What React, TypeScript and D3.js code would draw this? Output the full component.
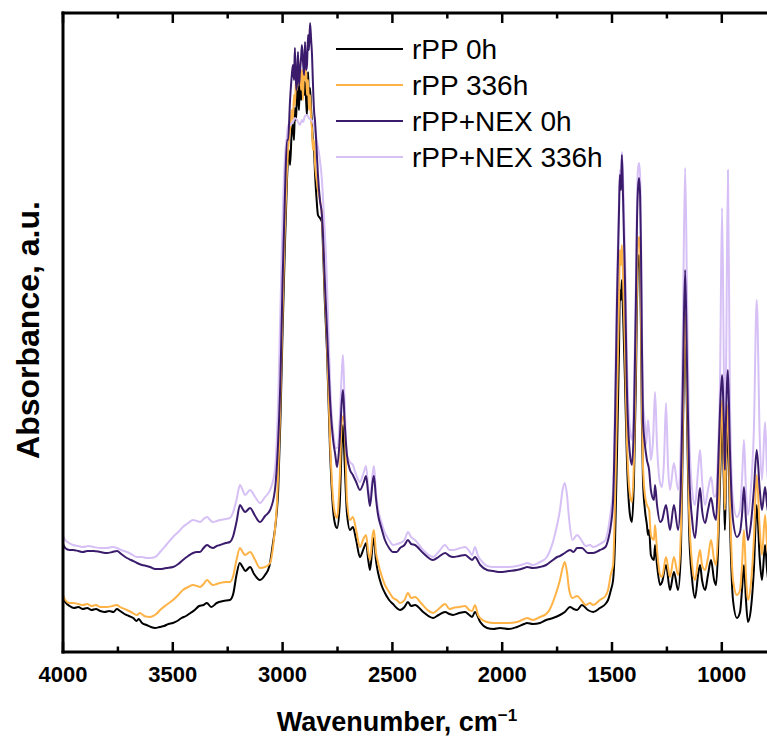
import React from 'react';
import * as d3 from 'd3';

type Pt = [number, number];

const seriesLabels = ['rPP 0h', 'rPP 336h', 'rPP+NEX 0h', 'rPP+NEX 336h'];
const xTickValues = [4000, 3500, 3000, 2500, 2000, 1500, 1000, 500];

// rPP 0h : [wavenumber cm-1, absorbance a.u.]
const rpp0h: Pt[] = [
  [4000,54],[3990,50],[3970,46],[3950,44],[3930,45],[3910,43],[3890,44],[3870,42],[3850,43],[3830,41],[3810,40],[3790,41],[3770,40],[3755,43],[3740,41],[3720,38],[3700,36],[3680,34],[3665,31],[3655,33],[3640,29],[3620,27],[3600,25],[3580,24],[3560,25],[3540,26],[3520,28],[3500,29],[3480,31],[3460,34],[3440,36],[3420,39],[3400,42],[3380,46],[3360,47],[3345,49],[3325,45],[3300,49],[3270,51],[3240,52],[3225,58],[3210,77],[3195,89],[3182,85],[3170,81],[3148,85],[3130,78],[3103,72],[3080,77],[3060,86],[3045,107],[3030,132],[3020,162],[3010,232],[3000,322],[2990,402],[2980,472],[2972,502],
  [2966,487],[2958,522],[2953,527],[2948,512],[2944,544],[2938,532],[2934,570],[2930,557],[2925,542],[2921,577],[2916,552],[2912,560],[2907,580],[2902,557],[2898,570],[2893,552],[2889,537],[2884,580],[2880,552],[2875,564],[2870,542],[2866,527],[2862,510],[2857,502],[2852,477],[2845,452],[2839,437],[2830,434],[2821,430],[2816,404],[2808,352],[2798,302],[2784,202],[2770,142],[2760,127],[2752,124],[2740,147],[2730,212],[2725,227],[2718,192],[2707,139],[2693,122],[2680,125],[2665,112],[2648,95],[2630,104],[2620,109],[2610,92],[2602,82],[2590,107],[2584,114],[2575,92],[2566,80],[2550,67],[2534,59],[2515,52],[2497,48],[2480,44],[2465,42],
  [2445,45],[2429,50],[2415,46],[2397,47],[2360,40],[2315,34],[2290,37],[2260,40],[2240,38],[2224,37],[2195,39],[2169,40],[2150,37],[2137,35],[2124,40],[2100,30],[2069,24],[2040,23],[2010,24],[1970,23],[1933,25],[1900,28],[1887,29],[1860,28],[1828,29],[1800,32],[1769,34],[1737,37],[1715,40],[1691,45],[1675,43],[1659,42],[1637,47],[1610,42],[1586,40],[1555,44],[1530,48],[1518,52],[1505,62],[1495,72],
  [1486,112],[1477,202],[1468,302],[1464,362],[1459,352],[1455,372],[1450,342],[1441,272],[1432,192],[1418,137],[1409,130],[1400,172],[1391,272],[1386,352],[1382,387],[1377,397],[1372,382],[1368,322],[1364,232],[1359,172],[1350,142],[1341,127],[1336,117],[1331,122],[1323,97],[1309,92],[1304,107],[1295,87],[1281,67],[1272,70],[1254,87],[1236,62],[1218,80],[1199,62],[1186,102],[1177,222],[1167,327],[1158,232],[1149,122],[1135,72],[1122,54],[1108,77],[1099,87],[1090,72],[1076,62],[1063,77],[1049,92],[1035,72],[1026,67],[1017,102],[1008,172],[999,232],[990,162],[986,122],[981,172],[972,227],[963,132],[949,52],[931,34],[917,40],[908,62],[899,87],[890,52],[881,30],[868,42],[854,82],[841,147],[827,92],[817,72],[803,107],[794,82],[780,62]
];

// rPP 336h
const rpp336h: Pt[] = [
  [4000,57],[3990,52],[3970,49],[3954,49],[3930,48],[3909,47],[3890,48],[3870,46],[3850,47],[3830,45],[3800,45],[3775,46],[3754,47],[3740,45],[3709,42],[3690,40],[3663,37],[3650,39],[3630,36],[3604,35],[3590,36],[3575,38],[3558,42],[3530,47],[3499,52],[3475,57],[3454,62],[3430,65],[3408,67],[3390,66],[3376,65],[3360,68],[3344,72],[3330,69],[3317,67],[3300,68],[3285,69],[3260,70],[3240,70],[3225,76],[3210,92],[3194,104],[3182,100],[3171,97],[3148,100],[3125,92],[3103,84],[3080,85],[3057,89],[3040,112],[3025,152],[3010,252],[3000,342],[2990,422],[2980,482],[2975,502],
  [2966,522],[2958,542],[2953,532],[2948,557],[2944,547],[2938,577],[2934,562],[2930,597],[2925,567],[2921,587],[2916,562],[2912,582],[2907,552],[2902,592],[2898,572],[2893,582],[2889,557],[2884,572],[2880,542],[2875,557],[2870,532],[2866,522],[2862,502],[2857,512],[2852,487],[2845,472],[2839,462],[2830,452],[2821,437],[2816,412],[2808,362],[2798,312],[2784,212],[2770,152],[2760,137],[2752,134],[2740,172],[2730,232],[2722,236],[2715,212],[2707,152],[2693,132],[2680,135],[2665,122],[2648,105],[2630,114],[2620,117],[2610,100],[2602,92],[2590,117],[2584,122],[2575,100],[2566,90],[2550,77],[2534,67],[2515,60],[2497,54],[2480,52],[2465,49],
  [2445,52],[2429,59],[2415,54],[2397,55],[2370,49],[2340,42],[2315,39],[2290,43],[2260,48],[2240,43],[2224,44],[2195,45],[2169,46],[2150,42],[2137,41],[2124,47],[2110,37],[2090,32],[2069,30],[2040,29],[2010,29],[1970,29],[1933,30],[1900,33],[1887,34],[1860,32],[1828,35],[1800,38],[1785,42],[1769,50],[1750,62],[1737,72],[1725,84],[1715,90],[1705,80],[1695,62],[1680,54],[1659,56],[1640,52],[1620,47],[1600,49],[1586,47],[1555,52],[1530,56],[1518,62],[1505,78],[1495,87],
  [1486,152],[1477,252],[1468,352],[1464,402],[1459,387],[1455,407],[1450,377],[1441,302],[1432,212],[1418,157],[1409,150],[1400,192],[1391,302],[1386,372],[1382,407],[1377,415],[1372,402],[1368,342],[1364,252],[1359,187],[1350,157],[1341,147],[1331,142],[1323,117],[1309,112],[1304,127],[1295,102],[1281,77],[1272,75],[1254,95],[1236,75],[1218,95],[1199,77],[1186,122],[1177,242],[1167,342],[1158,252],[1149,142],[1135,87],[1122,72],[1108,92],[1099,102],[1090,87],[1076,82],[1063,94],[1049,112],[1035,92],[1026,87],[1017,122],[1008,192],[999,252],[990,182],[986,142],[981,192],[972,247],[963,152],[949,72],[931,57],[917,62],[908,87],[899,122],[890,77],[881,52],[868,67],[854,112],[841,177],[827,122],[817,97],[803,137],[794,107],[780,85]
];

// rPP+NEX 0h
const rppNex0h: Pt[] = [
  [4000,108],[3990,104],[3970,102],[3954,102],[3930,101],[3909,100],[3890,101],[3860,101],[3830,100],[3800,99],[3775,100],[3754,101],[3735,98],[3709,94],[3690,92],[3663,89],[3640,87],[3620,86],[3604,85],[3580,83],[3558,83],[3530,84],[3499,85],[3475,88],[3454,92],[3430,96],[3408,99],[3390,100],[3376,100],[3360,104],[3344,107],[3330,105],[3317,104],[3300,106],[3285,107],[3260,109],[3240,110],[3225,116],[3210,130],[3194,147],[3182,143],[3171,140],[3148,144],[3125,136],[3103,130],[3080,136],[3057,142],[3035,162],[3020,212],[3010,272],[3000,372],[2990,452],[2980,512],[2975,512],
  [2966,552],[2958,577],[2953,587],[2948,572],[2944,604],[2938,562],[2934,570],[2930,600],[2925,567],[2921,580],[2916,594],[2912,607],[2907,590],[2902,577],[2898,610],[2893,582],[2889,587],[2884,617],[2880,602],[2875,629],[2870,612],[2866,597],[2862,570],[2857,542],[2852,530],[2845,502],[2839,477],[2830,452],[2821,437],[2816,417],[2808,372],[2798,322],[2784,252],[2770,212],[2760,197],[2752,185],[2740,212],[2730,252],[2725,262],[2718,232],[2707,197],[2693,182],[2680,177],[2665,170],[2648,162],[2630,170],[2620,176],[2610,158],[2602,146],[2590,170],[2584,176],[2575,154],[2566,138],[2550,124],[2534,112],[2515,104],[2497,100],[2480,100],[2465,104],
  [2445,107],[2429,112],[2415,108],[2397,107],[2360,99],[2315,92],[2290,95],[2260,99],[2240,96],[2224,95],[2195,96],[2169,97],[2150,94],[2137,92],[2124,95],[2100,87],[2069,82],[2040,81],[2010,80],[1970,81],[1933,82],[1900,84],[1887,85],[1860,84],[1828,85],[1800,87],[1769,92],[1750,95],[1737,96],[1715,99],[1691,102],[1675,100],[1659,104],[1637,104],[1610,99],[1586,99],[1555,102],[1530,105],[1518,112],[1505,127],[1495,152],
  [1486,232],[1477,352],[1468,442],[1464,477],[1459,462],[1455,497],[1450,457],[1441,372],[1432,262],[1418,197],[1409,187],[1400,232],[1391,352],[1386,432],[1382,462],[1377,474],[1372,457],[1368,402],[1364,312],[1359,232],[1350,207],[1341,192],[1331,182],[1323,162],[1309,152],[1304,167],[1295,147],[1281,130],[1272,132],[1254,147],[1236,122],[1218,147],[1199,122],[1186,172],[1177,272],[1167,382],[1158,282],[1149,182],[1135,132],[1122,114],[1108,147],[1099,164],[1090,142],[1076,129],[1063,142],[1049,154],[1035,137],[1026,132],[1017,182],[1008,242],[999,277],[990,222],[986,182],[981,232],[972,282],[963,202],[949,132],[931,115],[917,120],[908,137],[899,165],[890,132],[881,112],[868,127],[854,162],[841,202],[827,162],[817,142],[803,165],[794,147],[780,130]
];

// rPP+NEX 336h
const rppNex336h: Pt[] = [
  [4000,116],[3990,112],[3980,110],[3954,107],[3930,106],[3909,105],[3885,106],[3860,105],[3830,104],[3800,104],[3775,105],[3754,104],[3735,102],[3709,100],[3690,98],[3663,95],[3640,95],[3620,94],[3604,94],[3580,95],[3558,100],[3530,107],[3499,115],[3475,120],[3454,125],[3430,129],[3408,132],[3390,131],[3376,130],[3360,133],[3344,135],[3330,132],[3317,130],[3300,131],[3285,132],[3260,133],[3240,134],[3225,140],[3210,152],[3194,167],[3182,162],[3171,157],[3148,162],[3125,155],[3103,149],[3080,155],[3057,162],[3035,182],[3020,252],[3010,342],[3000,432],[2990,492],[2980,517],[2975,527],
  [2966,527],[2958,529],[2953,530],[2944,534],[2934,532],[2921,527],[2912,532],[2907,530],[2898,536],[2889,537],[2880,534],[2870,532],[2862,530],[2852,522],[2845,512],[2830,492],[2821,472],[2812,437],[2800,382],[2790,312],[2784,272],[2775,232],[2765,212],[2760,204],[2752,204],[2740,232],[2730,282],[2725,297],[2718,252],[2707,197],[2693,190],[2680,187],[2665,177],[2648,170],[2630,180],[2620,186],[2610,164],[2602,152],[2590,178],[2584,186],[2575,160],[2566,144],[2550,130],[2534,119],[2515,112],[2497,107],[2480,108],[2465,109],
  [2445,112],[2429,120],[2415,115],[2397,112],[2360,102],[2315,95],[2290,100],[2260,107],[2240,102],[2224,102],[2190,104],[2169,105],[2150,101],[2137,97],[2124,105],[2110,96],[2090,90],[2069,86],[2040,85],[2010,85],[1970,85],[1933,86],[1900,88],[1887,89],[1860,87],[1828,90],[1800,94],[1785,100],[1769,110],[1750,127],[1737,142],[1725,162],[1715,169],[1705,157],[1695,132],[1680,112],[1659,117],[1640,112],[1620,106],[1600,107],[1586,105],[1555,108],[1530,112],[1518,122],[1505,142],[1495,162],
  [1486,252],[1477,372],[1468,452],[1464,482],[1459,472],[1455,500],[1450,477],[1441,402],[1432,292],[1418,222],[1409,212],[1400,257],[1391,372],[1386,452],[1382,482],[1377,489],[1372,477],[1368,422],[1364,332],[1359,252],[1350,227],[1345,207],[1336,232],[1327,207],[1323,192],[1313,212],[1304,260],[1295,207],[1281,169],[1272,165],[1263,192],[1254,249],[1245,187],[1236,162],[1218,189],[1199,162],[1186,212],[1177,332],[1167,484],[1158,352],[1149,222],[1135,162],[1122,147],[1108,182],[1099,202],[1090,172],[1076,147],[1063,162],[1049,175],[1035,155],[1026,157],[1017,202],[1008,272],[999,444],[990,272],[986,212],[981,272],[972,482],[963,252],[949,152],[931,135],[917,142],[908,172],[899,212],[890,162],[881,137],[868,162],[854,222],[841,352],[827,212],[817,172],[803,230],[794,182],[780,160]
];

const seriesData = [rpp0h, rpp336h, rppNex0h, rppNex336h];
const seriesColors = ['#000000', '#FFB347', '#3B1C6C', '#D6C0F5'];
const drawOrder = [0, 1, 3, 2];

export default function App() {
  const W = 767, H = 738;
  const left = 63, top = 13, bottom = 652;
  const x = d3.scaleLinear().domain([4000, 400]).range([left, left + 3600 * 0.2196]);
  const y = d3.scaleLinear().domain([0, 639]).range([bottom, top]);
  const line = d3.line<Pt>().x(d => x(d[0])).y(d => y(d[1])).curve(d3.curveMonotoneX);
  const minorTicks = d3.range(3750, 400, -500);
  const font = 'Arial, "Liberation Sans", Helvetica, sans-serif';

  return (
    <svg width={W} height={H} style={{ position: 'absolute', left: 0, top: 0, background: '#fff' }} fontFamily={font}>
      <defs>
        <clipPath id="plotclip">
          <rect x={left} y={top} width={W - left} height={bottom - top} />
        </clipPath>
      </defs>
      <g clipPath="url(#plotclip)">
        {drawOrder.map(i => (
          <path key={i} d={line(seriesData[i]) || ''} fill="none" stroke={seriesColors[i]} strokeWidth={2} strokeLinejoin="round" />
        ))}
      </g>
      <line x1={left - 1.5} x2={W} y1={top} y2={top} stroke="#000" strokeWidth={3} />
      <line x1={left - 1.5} x2={W} y1={bottom} y2={bottom} stroke="#000" strokeWidth={3} />
      <line x1={left} x2={left} y1={top - 1.5} y2={bottom + 1.5} stroke="#000" strokeWidth={3} />
      {xTickValues.filter(t => x(t) < W).map(t => (
        <g key={'M' + t}>
          <line x1={x(t)} x2={x(t)} y1={bottom} y2={bottom - 10} stroke="#000" strokeWidth={2.5} />
          <line x1={x(t)} x2={x(t)} y1={top} y2={top + 10} stroke="#000" strokeWidth={2.5} />
          <text x={x(t)} y={682} textAnchor="middle" fontSize={22} fontWeight="bold">{t}</text>
        </g>
      ))}
      {minorTicks.filter(t => x(t) < W).map(t => (
        <g key={'m' + t}>
          <line x1={x(t)} x2={x(t)} y1={bottom} y2={bottom - 5.5} stroke="#000" strokeWidth={2.5} />
          <line x1={x(t)} x2={x(t)} y1={top} y2={top + 5.5} stroke="#000" strokeWidth={2.5} />
        </g>
      ))}
      <text x={397} y={731} textAnchor="middle" fontSize={27} fontWeight="bold">
        Wavenumber, cm<tspan dy={-10} fontSize={17}>−1</tspan>
      </text>
      <text transform="translate(39,330) rotate(-90)" textAnchor="middle" fontSize={32} fontWeight="bold">
        Absorbance, a.u.
      </text>
      {seriesLabels.map((lab, i) => {
        const ly = 49 + i * 36;
        return (
          <g key={lab}>
            <line x1={336} x2={403} y1={ly} y2={ly} stroke={seriesColors[i]} strokeWidth={2} />
            <text x={412} y={ly} dy="0.36em" fontSize={28}>{lab}</text>
          </g>
        );
      })}
    </svg>
  );
}
